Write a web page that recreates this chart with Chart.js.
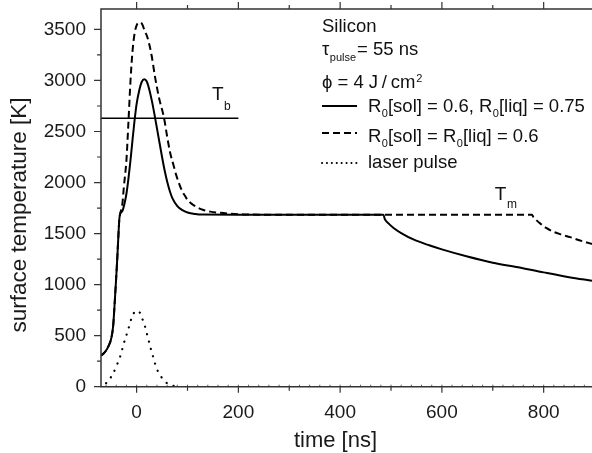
<!DOCTYPE html>
<html><head><meta charset="utf-8">
<script src="https://cdn.jsdelivr.net/npm/chart.js@4/dist/chart.umd.min.js"></script>
<style>html,body{margin:0;padding:0;background:#fff}</style>
</head><body>
<canvas id="c" width="592" height="453"></canvas>
<script>
// ---- data (time in ns, temperature in K) ----
const solidTime = [-70,-65,-60,-55,-50,-46,-43,-40,-38,-36,-34,-32.5,-28,-24,-20,-16,-12,-8,-4,0,5,10,15,20,25,30,35,40,45,50,55,60,65,70,80,90,100,115,130,200,300,400,485,488,495,505,520,545,575,600,650,700,750,800,850,895];
const solidTemp = [305,325,355,400,470,600,830,1080,1260,1460,1640,1690,1720,1790,1890,2040,2220,2420,2610,2770,2900,2985,3012,2990,2910,2800,2670,2530,2390,2250,2120,2010,1920,1850,1770,1730,1707,1692,1686,1685,1685,1685,1685,1640,1600,1555,1505,1440,1385,1345,1275,1215,1170,1120,1073,1038];

const dashTime = [-70,-65,-60,-55,-50,-46,-43,-40,-38,-36,-34,-32.5,-28,-25,-20,-16,-12,-8,-4,0,4,8,12,16,20,26,30,36,44,54,60,66,72,78,85,90,95,100,110,120,130,145,165,185,210,250,400,600,777,780,785,793,805,819,835,852,870,891,895];
const dashTemp = [305,325,355,400,470,600,830,1080,1260,1460,1640,1690,1790,1960,2220,2600,3000,3290,3460,3540,3565,3568,3540,3480,3440,3330,3230,3040,2830,2630,2450,2290,2180,2070,1970,1910,1870,1830,1785,1755,1733,1715,1703,1695,1688,1685,1685,1685,1685,1660,1635,1600,1555,1518,1490,1465,1435,1404,1398];

const pulseTime = [-60,-56,-46,-39,-32,-26,-21,-16,-12,-8,-3,2,6,10,16,20,24,28,32,36,41,46,50,55,62,70,80];
const pulseTemp = [35,56,131,210,300,410,490,570,640,700,735,745,728,680,598,523,448,370,300,230,160,115,85,55,27,12,3];

const boilTime = [-70, 200];
const boilTemp = [2630, 2630];

const xTickValues = [0, 200, 400, 600, 800];
const yTickValues = [0, 500, 1000, 1500, 2000, 2500, 3000, 3500];

const tbLabelPos = {t: 148, T: 2808};
const tmLabelPos = {t: 704, T: 1828};

const xTitle = 'time [ns]';
const yTitle = 'surface temperature [K]';

const legendLines = [
  {label: 'R0[sol] = 0.6, R0[liq] = 0.75', dash: []},
  {label: 'R0[sol] = R0[liq] = 0.6', dash: [7,4]},
  {label: 'laser pulse', dash: [0.1,4.8]}
];

const pts = (xs, ys) => xs.map((x,i)=>({x, y: ys[i]}));
const FONT = '"Liberation Sans", Arial, Helvetica, sans-serif';
const AXC = '#333';
const TXC = '#1a1a1a';

const axesPlugin = {
  id: 'axesPlugin',
  afterDraw(chart) {
    const ctx = chart.ctx, a = chart.chartArea;
    const xs = chart.scales.x, ys = chart.scales.y;
    ctx.save();
    ctx.strokeStyle = AXC; ctx.lineWidth = 1.5; ctx.lineCap = 'butt';
    ctx.beginPath();
    ctx.moveTo(a.left, a.top); ctx.lineTo(a.left, a.bottom);
    ctx.moveTo(a.left - 0.75, a.bottom); ctx.lineTo(a.right, a.bottom);
    ctx.moveTo(a.left - 0.75, a.top); ctx.lineTo(a.right, a.top);
    ctx.stroke();
    ctx.lineWidth = 1.2;
    ctx.beginPath();
    for (let v = 0; v <= ys.max; v += 250) {
      const p = ys.getPixelForValue(v);
      const len = v % 500 === 0 ? 7 : 4;
      ctx.moveTo(a.left, p); ctx.lineTo(a.left - len, p);
    }
    for (let v = -100; v <= xs.max; v += 100) {
      if (v < xs.min) continue;
      const p = xs.getPixelForValue(v);
      const major = v % 200 === 0;
      ctx.moveTo(p, a.bottom); ctx.lineTo(p, a.bottom + (major ? 6 : 4));
      ctx.moveTo(p, a.top); ctx.lineTo(p, a.top - (major ? 7 : 4));
    }
    ctx.stroke();
    ctx.lineWidth = 0.8;
    ctx.beginPath();
    for (let v = -60; v <= xs.max; v += 20) {
      const p = xs.getPixelForValue(v);
      ctx.moveTo(p, a.bottom); ctx.lineTo(p, a.bottom - 2);
    }
    ctx.stroke();

    // axis titles
    ctx.fillStyle = TXC;
    ctx.font = `22px ${FONT}`;
    ctx.textAlign = 'center'; ctx.textBaseline = 'alphabetic';
    ctx.fillText(xTitle, 335.5, 446.5);
    ctx.save();
    ctx.translate(26, 215);
    ctx.rotate(-Math.PI / 2);
    ctx.font = `22.5px ${FONT}`;
    ctx.fillText(yTitle, 0, 0);
    ctx.restore();
    ctx.textAlign = 'left';

    // annotations
    ctx.fillStyle = '#111';
    const drawSub = (main, sub, x, y, size, subSize, dy) => {
      ctx.font = `${size}px ${FONT}`;
      ctx.fillText(main, x, y);
      const w = ctx.measureText(main).width;
      ctx.font = `${subSize}px ${FONT}`;
      ctx.fillText(sub, x + w + 0.5, y + dy);
      return x + w + 0.5 + ctx.measureText(sub).width;
    };
    drawSub('T', 'b', xs.getPixelForValue(tbLabelPos.t), ys.getPixelForValue(tbLabelPos.T), 19, 12, 10);
    drawSub('T', 'm', xs.getPixelForValue(tmLabelPos.t), ys.getPixelForValue(tmLabelPos.T), 19, 12, 8);

    const lx = 322, tx = 368, sz = 18.5;
    ctx.font = `${sz}px ${FONT}`;
    ctx.fillText('Silicon', lx, 31.5);
    let nx = drawSub('\u03C4', 'pulse', lx, 55, sz, 11, 6);
    ctx.font = `${sz}px ${FONT}`;
    ctx.fillText('= 55 ns', nx + 1, 55);
    const phiTxt = '\u03D5 = 4 J\u2009/\u2009cm';
    ctx.fillText(phiTxt, lx, 88);
    const pw = ctx.measureText(phiTxt).width;
    ctx.font = `11px ${FONT}`;
    ctx.fillText('2', lx + pw + 1, 82);

    const rows = [{y:106, b:111.5}, {y:133, b:141.5}, {y:163, b:168}];
    legendLines.forEach((L, i) => {
      ctx.save();
      ctx.strokeStyle = '#000'; ctx.lineWidth = 2; ctx.setLineDash(L.dash);
      ctx.lineCap = i === 2 ? 'round' : 'butt';
      ctx.beginPath(); ctx.moveTo(lx, rows[i].y); ctx.lineTo(357, rows[i].y); ctx.stroke();
      ctx.restore();
      let x = tx;
      L.label.split(/(R0)/).forEach(part => {
        if (part === 'R0') {
          x = drawSub('R', '0', x, rows[i].b, sz, 11, 5);
        } else if (part) {
          ctx.font = `${sz}px ${FONT}`;
          ctx.fillText(part, x, rows[i].b);
          x += ctx.measureText(part).width;
        }
      });
    });
    ctx.restore();
  }
};

new Chart(document.getElementById('c'), {
  type: 'scatter',
  data: {
    datasets: [
      {data: pts(pulseTime, pulseTemp), showLine: true, borderColor: '#000', borderWidth: 2.2, borderDash: [0.1, 7.5], borderCapStyle: 'round', pointRadius: 0, cubicInterpolationMode: 'monotone', fill: false},
      {data: pts(dashTime, dashTemp), showLine: true, borderColor: '#000', borderWidth: 2, borderDash: [7, 4], pointRadius: 0, cubicInterpolationMode: 'monotone', fill: false},
      {data: pts(solidTime, solidTemp), showLine: true, borderColor: '#000', borderWidth: 2, pointRadius: 0, cubicInterpolationMode: 'monotone', fill: false},
      {data: pts(boilTime, boilTemp), showLine: true, borderColor: '#000', borderWidth: 1.3, pointRadius: 0, fill: false}
    ]
  },
  options: {
    responsive: false, animation: false, devicePixelRatio: 1,
    layout: {padding: {top: 9, left: 0, right: 0, bottom: 0}},
    plugins: {legend: {display: false}, tooltip: {enabled: false}},
    scales: {
      x: {
        type: 'linear', min: -70, max: 895,
        grid: {display: false, drawTicks: false}, border: {display: false},
        afterBuildTicks: s => { s.ticks = xTickValues.map(v => ({value: v})); },
        afterFit: s => { s.height = 66.3; s.paddingLeft = 0; s.paddingRight = 0; },
        ticks: {padding: 15, color: TXC, font: {family: FONT, size: 19}, maxRotation: 0, callback: v => String(v)}
      },
      y: {
        type: 'linear', min: 0, max: 3700,
        grid: {display: false, drawTicks: false}, border: {display: false},
        afterBuildTicks: s => { s.ticks = yTickValues.map(v => ({value: v})); },
        afterFit: s => { s.width = 101; s.paddingTop = 0; s.paddingBottom = 0; },
        ticks: {padding: 15, color: TXC, font: {family: FONT, size: 19}, callback: v => String(v)}
      }
    }
  },
  plugins: [axesPlugin]
});
</script>
</body></html>
